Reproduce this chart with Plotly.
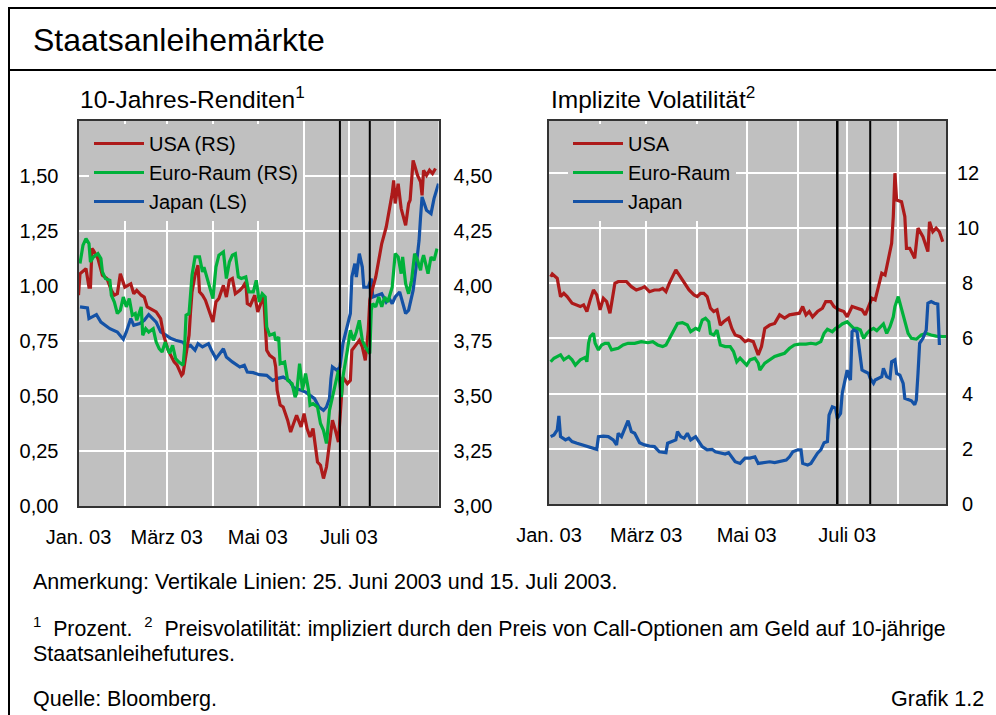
import plotly.graph_objects as go

YEAR = "2003-"

# ---------------- Left panel: 10-year yields ----------------
# Japan (left scale, %)
JP_L_DATES = ["01-02","01-07","01-08","01-13","01-16","01-22","01-27","01-31","02-02","02-05","02-07","02-11",
              "02-14","02-17","02-22","02-25","02-28","03-04","03-07","03-12","03-14","03-17","03-20","03-22",
              "03-25","03-29","03-31","04-03","04-08","04-10","04-14","04-19","04-22","04-24","04-28","05-02",
              "05-07","05-11","05-14","05-18","05-22","05-25","05-30","06-02","06-05","06-08","06-11","06-14",
              "06-16","06-18","06-19","06-20","06-23","06-25","06-27","06-30","07-02","07-03","07-05","07-06",
              "07-08","07-10","07-11","07-14","07-16","07-17","07-20","07-23","07-26","07-28","07-30","08-01",
              "08-04","08-06","08-08","08-10","08-13","08-15","08-17","08-18","08-19","08-22","08-25","08-27",
              "08-29","08-30"]
JP_L_VALS = [0.905,0.90,0.852,0.87,0.836,0.806,0.791,0.758,0.791,0.852,0.821,0.829,
             0.844,0.87,0.836,0.791,0.779,0.761,0.753,0.745,0.723,0.73,0.708,0.738,
             0.723,0.738,0.708,0.67,0.715,0.677,0.655,0.632,0.64,0.609,0.606,0.597,
             0.594,0.571,0.579,0.586,0.571,0.538,0.526,0.518,0.503,0.488,0.45,0.435,
             0.45,0.488,0.579,0.632,0.617,0.632,0.738,0.814,0.875,1.041,1.102,1.041,
             1.147,1.086,0.995,0.995,1.034,0.95,0.958,0.965,0.927,0.943,0.92,0.95,
             0.973,0.927,0.875,0.89,0.98,1.086,1.208,1.314,1.405,1.344,1.329,1.397,
             1.45,1.465]

# USA (right scale, %)
US_L_DATES = ["01-01","01-02","01-06","01-08","01-09","01-10","01-11","01-14","01-17","01-20","01-23","01-25",
              "01-27","01-29","02-01","02-03","02-05","02-07","02-09","02-12","02-14","02-16","02-18","02-22",
              "02-25","02-27","03-02","03-04","03-06","03-08","03-11","03-12","03-14","03-16","03-17","03-18",
              "03-20","03-22","03-23","03-25","03-27","03-29","04-01","04-03","04-05","04-08","04-10","04-12",
              "04-14","04-16","04-19","04-21","04-23","04-24","04-26","04-29","05-01","05-03","05-05","05-06",
              "05-07","05-09","05-12","05-13","05-14","05-16","05-18","05-21","05-23","05-25","05-27","05-30",
              "06-01","06-03","06-05","06-07","06-10","06-12","06-14","06-16","06-18","06-20","06-22","06-24",
              "06-26","06-27","06-30","07-02","07-03","07-06","07-08","07-10","07-12","07-14","07-15","07-16",
              "07-19","07-21","07-23","07-26","07-28","07-30","07-31","08-01","08-03","08-05","08-08","08-10",
              "08-11","08-13","08-14","08-16","08-18","08-19","08-20","08-22","08-24","08-26","08-28"]
US_L_VALS = [3.958,4.056,4.079,3.995,3.995,4.17,4.162,4.125,4.049,4.034,3.98,3.958,
             3.965,4.056,3.995,4.003,4.01,3.965,3.98,3.958,3.95,3.905,3.897,3.882,
             3.852,3.776,3.708,3.685,3.655,3.64,3.594,3.602,3.70,3.776,3.882,3.973,
             4.049,4.094,3.973,3.958,3.935,3.897,3.836,3.927,3.943,4.003,3.95,4.026,
             4.034,3.965,3.98,3.995,4.018,3.92,3.912,3.958,3.882,3.92,3.95,3.829,
             3.708,3.685,3.67,3.632,3.526,3.459,3.45,3.39,3.336,3.375,3.412,3.359,
             3.42,3.352,3.314,3.352,3.2,3.185,3.125,3.177,3.284,3.39,3.344,3.291,
             3.495,3.586,3.556,3.571,3.708,3.738,3.753,3.723,3.662,3.80,3.935,3.965,
             4.041,4.117,4.193,4.268,4.344,4.42,4.48,4.375,4.465,4.352,4.276,4.375,
             4.39,4.571,4.549,4.503,4.473,4.412,4.526,4.503,4.526,4.511,4.534]

# Euro area (right scale, %)
EU_L_DATES = ["01-02","01-04","01-06","01-08","01-09","01-11","01-14","01-16","01-17","01-19","01-22","01-23",
              "01-25","01-27","01-29","01-31","02-02","02-04","02-06","02-08","02-09","02-12","02-13","02-15",
              "02-17","02-20","02-22","02-24","02-26","02-28","03-03","03-05","03-07","03-09","03-12","03-13",
              "03-14","03-16","03-18","03-20","03-23","03-25","03-26","03-29","03-31","04-01","04-03","04-05",
              "04-08","04-10","04-12","04-14","04-16","04-18","04-20","04-23","04-25","04-28","04-30","05-02",
              "05-04","05-06","05-07","05-09","05-12","05-13","05-15","05-16","05-19","05-21","05-24","05-26",
              "05-27","05-29","05-31","06-02","06-04","06-05","06-07","06-10","06-12","06-14","06-16","06-18",
              "06-20","06-22","06-24","06-26","06-27","06-30","07-02","07-04","07-06","07-08","07-10","07-12",
              "07-15","07-16","07-17","07-19","07-21","07-23","07-25","07-27","07-30","08-01","08-03","08-05",
              "08-06","08-08","08-10","08-12","08-14","08-16","08-18","08-19","08-20","08-23","08-25","08-27",
              "08-29"]
EU_L_VALS = [4.102,4.185,4.215,4.193,4.109,4.132,4.147,4.125,4.064,4.034,4.026,3.958,
             3.927,3.875,3.89,3.95,3.905,3.943,3.867,3.875,3.844,3.905,3.776,3.806,
             3.791,3.806,3.745,3.715,3.70,3.745,3.693,3.73,3.67,3.655,3.64,3.715,
             3.867,3.875,4.049,4.132,4.132,4.064,4.086,4.018,3.973,3.943,4.086,4.14,
             4.155,4.034,4.109,4.14,4.147,4.041,4.034,4.041,3.973,3.973,4.026,3.927,
             3.965,3.95,3.814,3.776,3.784,3.753,3.768,3.647,3.655,3.571,3.556,3.495,
             3.511,3.647,3.526,3.602,3.526,3.458,3.465,3.45,3.375,3.344,3.284,3.435,
             3.495,3.556,3.617,3.495,3.586,3.708,3.799,3.753,3.791,3.844,3.753,3.723,
             3.693,3.89,3.92,3.905,3.95,3.905,3.95,3.927,3.995,4.147,4.132,4.056,
             4.132,4.01,3.965,4.026,4.147,4.117,4.071,4.117,4.14,4.056,4.132,4.117,
             4.17]

# ---------------- Right panel: implied volatility ----------------
US_V_DATES = ["01-02","01-03","01-06","01-08","01-10","01-12","01-15","01-18","01-20","01-22","01-24","01-26",
              "01-28","01-30","02-01","02-03","02-05","02-07","02-09","02-10","02-12","02-17","02-20","02-23",
              "02-26","02-28","03-03","03-06","03-09","03-11","03-13","03-15","03-19","03-21","03-24","03-27",
              "03-30","04-01","04-03","04-05","04-07","04-09","04-11","04-13","04-15","04-17","04-20","04-22",
              "04-24","04-27","04-30","05-02","05-05","05-08","05-10","05-12","05-15","05-18","05-21","05-24",
              "05-27","05-30","06-02","06-04","06-06","06-08","06-10","06-13","06-16","06-18","06-21","06-23",
              "06-26","06-29","07-01","07-04","07-07","07-10","07-12","07-14","07-16","07-18","07-20","07-22",
              "07-24","07-26","07-28","07-29","07-30","07-31","08-03","08-05","08-06","08-08","08-11","08-13",
              "08-16","08-19","08-20","08-22","08-24","08-26","08-28"]
US_V_VALS = [8.23,8.33,8.17,7.51,7.63,7.51,7.27,7.21,7.15,7.21,6.97,7.39,
             7.75,7.57,7.03,7.45,7.33,6.91,7.63,7.99,8.05,8.05,7.87,7.75,
             7.81,7.87,7.69,7.75,7.75,7.81,7.69,7.99,8.48,8.29,8.05,7.75,
             7.57,7.51,7.63,7.63,7.51,7.09,6.97,7.03,6.48,6.60,6.73,6.36,
             6.12,6.06,5.88,5.94,5.88,5.40,5.70,6.36,6.48,6.54,6.85,6.73,
             6.85,6.88,6.91,7.15,6.85,6.97,6.78,6.97,7.09,7.33,7.33,7.15,
             7.03,6.97,6.78,7.15,7.09,7.03,6.85,7.15,7.45,7.39,7.87,8.36,
             8.29,8.84,9.44,10.41,11.98,11.01,10.95,10.41,9.26,9.26,8.90,9.99,
             9.68,9.14,10.22,9.86,9.99,9.86,9.50]

EU_V_DATES = ["01-02","01-04","01-08","01-10","01-13","01-15","01-17","01-20","01-23","01-24","01-25","01-26",
              "01-28","01-29","01-31","02-02","02-04","02-06","02-08","02-12","02-15","02-18","02-22","02-26",
              "03-02","03-05","03-08","03-11","03-13","03-15","03-17","03-20","03-23","03-26","03-28","03-31",
              "04-02","04-04","04-06","04-08","04-09","04-11","04-13","04-15","04-18","04-21","04-23","04-25",
              "04-27","04-29","05-01","05-03","05-06","05-08","05-09","05-12","05-15","05-18","05-21","05-24",
              "05-27","05-30","06-02","06-06","06-09","06-12","06-15","06-17","06-19","06-22","06-24","06-26",
              "06-28","07-01","07-03","07-05","07-07","07-09","07-11","07-13","07-15","07-17","07-19","07-21",
              "07-23","07-25","07-27","07-29","07-30","08-01","08-03","08-05","08-07","08-09","08-12","08-15",
              "08-18","08-21","08-24","08-28","08-30"]
EU_V_VALS = [5.15,5.28,5.40,5.22,5.34,5.22,5.03,5.22,5.31,5.15,5.82,6.06,
             6.18,5.82,5.58,5.76,5.82,5.82,5.58,5.64,5.76,5.82,5.82,5.88,
             5.84,5.88,5.76,5.70,5.76,6.00,6.24,6.54,6.57,6.48,6.24,6.36,
             6.30,6.66,6.73,6.60,6.18,6.12,6.30,5.76,5.70,5.70,5.52,5.15,
             5.28,5.15,5.03,5.22,5.28,5.10,4.85,5.10,5.22,5.34,5.40,5.46,
             5.64,5.76,5.79,5.79,5.82,5.79,5.88,6.18,6.33,6.24,6.36,6.42,
             6.52,6.60,6.48,6.36,6.36,6.30,6.00,6.18,6.30,6.36,6.28,6.42,
             6.52,6.18,6.42,6.78,7.15,7.51,7.09,6.66,6.18,6.00,5.97,6.12,
             6.18,6.12,6.08,6.06,6.06]

JP_V_DATES = ["01-02","01-04","01-06","01-07","01-08","01-11","01-13","01-15","01-18","01-21","01-24","01-27",
              "01-30","01-31","02-03","02-06","02-09","02-11","02-12","02-14","02-16","02-18","02-20","02-22",
              "02-25","02-28","03-03","03-06","03-09","03-13","03-14","03-17","03-19","03-20","03-22","03-24",
              "03-26","03-28","03-31","04-02","04-04","04-07","04-10","04-12","04-15","04-18","04-20","04-22",
              "04-24","04-27","04-30","05-03","05-06","05-08","05-11","05-15","05-18","05-21","05-25","05-27",
              "05-29","06-01","06-03","06-04","06-07","06-09","06-11","06-13","06-15","06-17","06-19","06-20",
              "06-22","06-24","06-25","06-27","06-28","07-01","07-02","07-03","07-04","07-05","07-07","07-08",
              "07-10","07-12","07-14","07-15","07-17","07-18","07-20","07-22","07-23","07-25","07-27","07-28",
              "07-30","07-31","08-02","08-04","08-05","08-07","08-09","08-11","08-12","08-13","08-14","08-16",
              "08-18","08-19","08-21","08-23","08-25","08-26"]
JP_V_VALS = [2.44,2.50,2.68,3.19,2.44,2.32,2.38,2.26,2.20,2.14,2.08,2.02,
             1.98,2.44,2.46,2.44,2.32,2.14,2.56,2.44,2.74,3.02,2.62,2.56,
             2.22,2.14,2.10,2.08,1.89,1.86,2.20,2.26,2.32,2.62,2.44,2.38,
             2.56,2.32,2.44,2.26,2.08,1.96,1.98,1.89,1.84,1.81,1.86,1.71,
             1.53,1.47,1.66,1.66,1.71,1.47,1.50,1.53,1.50,1.53,1.59,1.71,
             1.89,1.96,1.96,1.47,1.41,1.47,1.66,1.84,1.96,2.22,2.26,3.22,
             3.52,3.47,3.10,3.28,4.01,4.85,4.61,4.49,6.24,6.30,6.24,5.70,
             4.85,4.79,4.73,4.55,4.37,4.49,4.55,4.61,4.91,4.61,4.55,5.15,
             5.22,4.73,4.67,4.37,3.83,3.77,3.74,3.59,3.77,4.73,5.82,6.00,
             6.30,7.27,7.33,7.27,7.24,5.76]

# Event dates (vertical lines) and axis ticks
EVENT_DATES = ["2003-06-25", "2003-07-15"]
MONTH_TICKS = ["2003-01-01","2003-02-01","2003-03-01","2003-04-01","2003-05-01","2003-06-01","2003-07-01","2003-08-01"]
MONTH_LABELS = ["Jan. 03","","März 03","","Mai 03","","Juli 03",""]
X_RANGE = ["2003-01-01", "2003-08-30"]
LS_TICKS = [0, 0.25, 0.5, 0.75, 1.0, 1.25, 1.5]
RS_TICKS = [3.0, 3.25, 3.5, 3.75, 4.0, 4.25, 4.5]
VOL_TICKS = [0, 2, 4, 6, 8, 10, 12]
VOL_LABELS = ["\u20050", "\u20052", "\u20054", "\u20056", "\u20058", "10", "12"]

RED, GREEN, BLUE = "#ad1a1a", "#00b13a", "#1452a6"
FONT = "Liberation Sans, Arial, sans-serif"
W, H = 996, 715


def d(lst):
    return [YEAR + s for s in lst]


fig = go.Figure()
lw = 3.2
fig.add_trace(go.Scatter(x=d(US_L_DATES), y=US_L_VALS, name="USA (RS)", mode="lines",
                         line=dict(color=RED, width=lw), xaxis="x", yaxis="y2", legend="legend"))
fig.add_trace(go.Scatter(x=d(EU_L_DATES), y=EU_L_VALS, name="Euro-Raum (RS)", mode="lines",
                         line=dict(color=GREEN, width=lw), xaxis="x", yaxis="y2", legend="legend"))
fig.add_trace(go.Scatter(x=d(JP_L_DATES), y=JP_L_VALS, name="Japan (LS)", mode="lines",
                         line=dict(color=BLUE, width=lw), xaxis="x", yaxis="y", legend="legend"))
fig.add_trace(go.Scatter(x=d(US_V_DATES), y=US_V_VALS, name="USA", mode="lines",
                         line=dict(color=RED, width=lw), xaxis="x2", yaxis="y3", legend="legend2"))
fig.add_trace(go.Scatter(x=d(EU_V_DATES), y=EU_V_VALS, name="Euro-Raum", mode="lines",
                         line=dict(color=GREEN, width=lw), xaxis="x2", yaxis="y3", legend="legend2"))
fig.add_trace(go.Scatter(x=d(JP_V_DATES), y=JP_V_VALS, name="Japan", mode="lines",
                         line=dict(color=BLUE, width=lw), xaxis="x2", yaxis="y3", legend="legend2"))


def px_x(p):
    return p / W


def px_y(p):
    return 1 - p / H


grid = dict(showgrid=True, gridcolor="white", gridwidth=1.6, zeroline=False)
border = dict(showline=True, linecolor="#333333", linewidth=2, mirror=True)
tickf = dict(size=20, color="black", family=FONT)

xcommon = dict(type="date", range=X_RANGE, tickmode="array", tickvals=MONTH_TICKS, ticktext=MONTH_LABELS,
               ticks="", tickfont=tickf, ticklabelstandoff=12, automargin=False, **grid, **border)

legend_common = dict(xanchor="left", yanchor="top", bgcolor="#c0c0c0", borderwidth=0,
                     font=dict(size=20, family=FONT, color="black"), itemwidth=50, tracegroupgap=0)

fig.update_layout(
    template="none",
    width=W, height=H, autosize=False, margin=dict(l=0, r=0, t=0, b=0, pad=0, autoexpand=False),
    paper_bgcolor="white", plot_bgcolor="#c0c0c0",
    font=dict(family=FONT, color="black"),
    separators=",.",
    xaxis=dict(domain=[px_x(78.5), px_x(438.5)], anchor="y", **xcommon),
    yaxis=dict(domain=[px_y(506), px_y(121)], anchor="x", range=[0, 1.75], tickmode="array",
               tickvals=LS_TICKS, tickformat=".2f", ticks="", tickfont=tickf, ticklabelstandoff=14,
               automargin=False, **grid, **border),
    yaxis2=dict(overlaying="y", side="right", anchor="x", range=[3, 4.75], tickmode="array",
                tickvals=RS_TICKS, tickformat=".2f", ticks="", tickfont=tickf, ticklabelstandoff=14,
                automargin=False, showgrid=False, zeroline=False, showline=False),
    xaxis2=dict(domain=[px_x(549), px_x(946)], anchor="y3", **xcommon),
    yaxis3=dict(domain=[px_y(504), px_y(121)], anchor="x2", side="right", range=[0, 13.87],
                tickmode="array", tickvals=VOL_TICKS, ticktext=VOL_LABELS, ticks="", tickfont=tickf,
                ticklabelstandoff=5, automargin=False, **grid, **border),
    legend=dict(x=px_x(89), y=px_y(124), **legend_common),
    legend2=dict(x=px_x(568), y=px_y(124), **legend_common),
    showlegend=True,
)

shapes = []
# event lines
for i, ev in enumerate(EVENT_DATES):
    shapes.append(dict(type="line", xref="x", yref="paper", x0=ev, x1=ev, y0=px_y(506), y1=px_y(121),
                       line=dict(color="black", width=2)))
    shapes.append(dict(type="line", xref="x2", yref="paper", x0=ev, x1=ev, y0=px_y(504), y1=px_y(121),
                       line=dict(color="black", width=2.5 if i == 0 else 2)))
# frame
shapes.append(dict(type="line", xref="paper", yref="paper", x0=px_x(8), x1=1, y0=px_y(8), y1=px_y(8),
                   line=dict(color="black", width=2)))
shapes.append(dict(type="line", xref="paper", yref="paper", x0=px_x(8), x1=1, y0=px_y(70), y1=px_y(70),
                   line=dict(color="black", width=2)))
shapes.append(dict(type="line", xref="paper", yref="paper", x0=px_x(9), x1=px_x(9), y0=0, y1=px_y(7),
                   line=dict(color="black", width=2)))
fig.update_layout(shapes=shapes)

ann = []


def text(x, y, s, size, anchor="left"):
    ann.append(dict(x=px_x(x), y=px_y(y), xref="paper", yref="paper", text=s, showarrow=False,
                    xanchor=anchor, yanchor="middle", font=dict(size=size, family=FONT, color="black")))


text(31, 40, "Staatsanleihemärkte", 32)
text(78, 97, "10-Jahres-Renditen<sup>1</sup>", 24.5)
text(549, 97, "Implizite Volatilität<sup>2</sup>", 24.5)
text(31, 582, "Anmerkung: Vertikale Linien: 25. Juni 2003 und 15. Juli 2003.", 21.5)
text(31, 627, "<sup>1</sup>  Prozent.  <sup>2</sup>  Preisvolatilität: impliziert durch den Preis von "
              "Call-Optionen am Geld auf 10-jährige", 21.3)
text(31, 654, "Staatsanleihefutures.", 21.5)
text(31, 699, "Quelle: Bloomberg.", 21.5)
text(986, 699, "Grafik 1.2", 21.5, anchor="right")
fig.update_layout(annotations=ann)

fig.write_html("out.html", config={"displayModeBar": False, "responsive": False},
               post_script="document.body.style.margin='0';document.body.style.overflow='hidden';")
